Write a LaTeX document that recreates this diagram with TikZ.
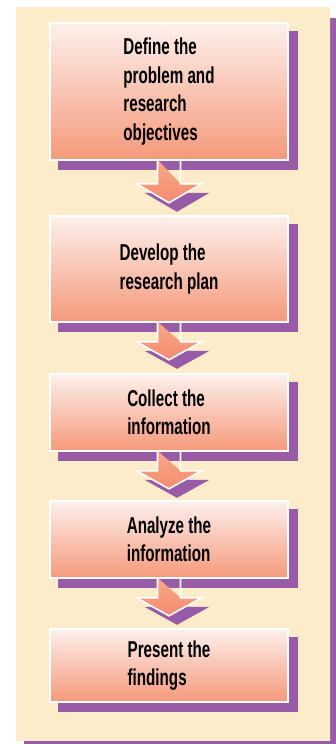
\documentclass[tikz,border=0pt]{standalone}
\usepackage{fontspec}
\setmainfont{Liberation Sans}[FakeStretch=0.66]
\usetikzlibrary{calc,backgrounds}
\definecolor{shadowpurple}{RGB}{152,92,166}
\definecolor{panelcream}{RGB}{253,236,201}
\definecolor{panelpink}{RGB}{253,243,236}
\definecolor{boxtop}{RGB}{253,240,236}
\definecolor{boxbottom}{RGB}{245,153,122}
\definecolor{arrowtop}{RGB}{247,170,140}
\definecolor{arrowtip}{RGB}{244,138,110}
\pgfdeclarehorizontalshading{panelshade}{100bp}{color(0bp)=(panelpink); color(20bp)=(panelcream); color(100bp)=(panelcream)}

\begin{document}
\begin{tikzpicture}[x=1pt,y=-1pt,
  stage/.style={rectangle,draw=white,line width=1.6pt,top color=boxtop,bottom color=boxbottom,
    minimum width=238pt,inner sep=0pt,align=left,font=\bfseries\fontsize{23}{28.5}\selectfont},
  stageshadow/.style={fill=shadowpurple},
  flowfill/.style={top color=arrowtop,bottom color=arrowtip},
  flowline/.style={draw=white,line width=1.6pt,line join=miter}]
\useasboundingbox (0,0) rectangle (336,744);
\node[stage,minimum height=137pt] (define) at (169,91.5) {Define the\\problem and\\research\\objectives};
\node[stage,minimum height=106pt] (plan) at (169,269) {Develop the\\research plan};
\node[stage,minimum height=77pt] (collect) at (169,412.5) {Collect the\\information};
\node[stage,minimum height=77pt] (analyze) at (169,539.5) {Analyze the\\information};
\node[stage,minimum height=73pt] (present) at (169,665.5) {Present the\\findings};
\begin{scope}[on background layer]
\fill[shadowpurple] (24,18) rectangle (336,744);
\shade[shading=panelshade] (16,7) rectangle (330,740);
\fill[stageshadow] ($(define.south west)+(9,9)$) rectangle ($(define.north east)+(9,9)$);
\fill[stageshadow] ($(plan.south west)+(9,9)$) rectangle ($(plan.north east)+(9,9)$);
\fill[stageshadow] ($(collect.south west)+(9,9)$) rectangle ($(collect.north east)+(9,9)$);
\fill[stageshadow] ($(analyze.south west)+(9,9)$) rectangle ($(analyze.north east)+(9,9)$);
\fill[stageshadow] ($(present.south west)+(9,9)$) rectangle ($(present.north east)+(9,9)$);
\end{scope}
\fill[stageshadow] ($(define.south)+(-3.5,8)$) -- ++(0,24) -- ++(-21,0) -- ++(32.5,19) -- ++(32.5,-19) -- ++(-21,0) -- cycle;
\shade[flowfill] ($(define.south)+(-11.5,-1)$) -- ++(0,24) -- ++(-21,0) -- ++(32.5,19) -- ++(32.5,-19) -- ++(-21,0) -- cycle;
\draw[flowline] ($(define.south)+(-11.5,0)$) -- ++(0,23) -- ++(-21,0) -- ++(32.5,19) -- ++(32.5,-19) -- ++(-21,0) -- ++(0,-23);
\fill[stageshadow] ($(plan.south)+(-3.5,8)$) -- ++(0,20) -- ++(-21,0) -- ++(32.5,18) -- ++(32.5,-18) -- ++(-21,0) -- cycle;
\shade[flowfill] ($(plan.south)+(-11.5,-1)$) -- ++(0,20) -- ++(-21,0) -- ++(32.5,18) -- ++(32.5,-18) -- ++(-21,0) -- cycle;
\draw[flowline] ($(plan.south)+(-11.5,0)$) -- ++(0,19) -- ++(-21,0) -- ++(32.5,18) -- ++(32.5,-18) -- ++(-21,0) -- ++(0,-19);
\fill[stageshadow] ($(collect.south)+(-3.5,8)$) -- ++(0,20) -- ++(-21,0) -- ++(32.5,18) -- ++(32.5,-18) -- ++(-21,0) -- cycle;
\shade[flowfill] ($(collect.south)+(-11.5,-1)$) -- ++(0,20) -- ++(-21,0) -- ++(32.5,18) -- ++(32.5,-18) -- ++(-21,0) -- cycle;
\draw[flowline] ($(collect.south)+(-11.5,0)$) -- ++(0,19) -- ++(-21,0) -- ++(32.5,18) -- ++(32.5,-18) -- ++(-21,0) -- ++(0,-19);
\fill[stageshadow] ($(analyze.south)+(-3.5,8)$) -- ++(0,20) -- ++(-21,0) -- ++(32.5,18) -- ++(32.5,-18) -- ++(-21,0) -- cycle;
\shade[flowfill] ($(analyze.south)+(-11.5,-1)$) -- ++(0,20) -- ++(-21,0) -- ++(32.5,18) -- ++(32.5,-18) -- ++(-21,0) -- cycle;
\draw[flowline] ($(analyze.south)+(-11.5,0)$) -- ++(0,19) -- ++(-21,0) -- ++(32.5,18) -- ++(32.5,-18) -- ++(-21,0) -- ++(0,-19);
\end{tikzpicture}
\end{document}
